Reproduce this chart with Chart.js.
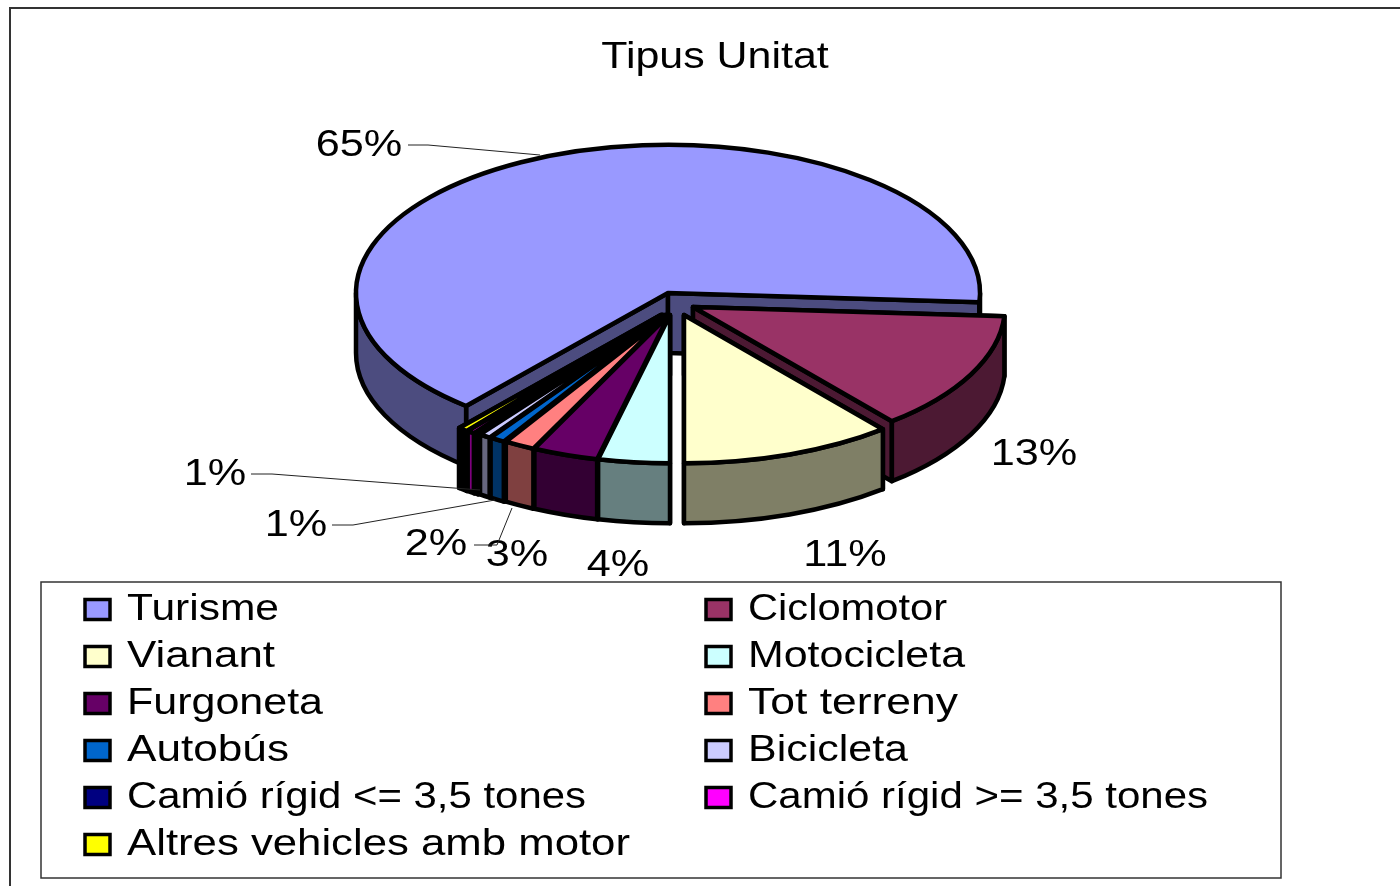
<!DOCTYPE html>
<html>
<head>
<meta charset="utf-8">
<title>Tipus Unitat</title>
<script src="https://cdn.jsdelivr.net/npm/chart.js@4"></script>
<style>
  html, body { margin: 0; padding: 0; background: #fff; }
  canvas { display: block; }
</style>
</head>
<body>
<canvas id="myChart" width="1400" height="886"></canvas>
<script>
// values
let categories = ["Turisme", "Ciclomotor", "Vianant", "Motocicleta", "Furgoneta", "Tot terreny",
  "Autobús", "Bicicleta", "Camió rígid <= 3,5 tones", "Camió rígid >= 3,5 tones", "Altres vehicles amb motor"];
let shares = [64.8, 13, 11, 3.7, 3.4, 1.6, 0.8, 0.6, 0.2, 0.4, 0.5];
let colors = ["#9999FF", "#993366", "#FFFFCC", "#CCFFFF", "#660066", "#FF8080",
  "#0066CC", "#CCCCFF", "#000080", "#FF00FF", "#FFFF00"];

// look of the fake 3d pie
const FONT = "Liberation Sans";
const SQUASH = 0.475;
const RADIUS = 312;
const DEPTH = 60;
const CENTER_Y = 293;
const OUTLINE = 4.5;
// how far each slice is pulled out, in screen pixels
let pulled = [[0, 0], [25, 14], [16, 22], [2, 22], [1, 22], [0, 22], [-2, 22], [-3, 22], [-5, 22], [-6, 22], [-7, 22]];

// percent labels: [slice, text x, text y, leader points...]
let percentLabels = [
  [0, 359, 156, [[408, 145], [428, 145], [540, 155]]],
  [1, 1034, 465, []],
  [2, 845, 566, []],
  [3, 618, 576, []],
  [4, 517, 566, []],
  [5, 436, 555, [[474, 545], [497, 545], [512, 508]]],
  [6, 296, 536, [[332, 525], [353, 525], [495, 500]]],
  [7, 215, 485, [[251, 474], [272, 474], [480, 490]]]
];

let legendRows = [609.5, 656.5, 703.5, 750.5, 797.5, 844.5];
let legendCols = [[85, 127], [706, 748]];
let legendWidths = [152, 199, 148, 217, 196, 210, 162, 160, 459, 460, 503];

function darker(hex) {
  let n = parseInt(hex.slice(1), 16);
  let r = (n >> 16) >> 1, g = ((n >> 8) & 255) >> 1, b = (n & 255) >> 1;
  return "rgb(" + r + "," + g + "," + b + ")";
}

let wallColors = colors.map(darker);
wallColors[10] = "#000"; // that wall is only outline in the original

// text pulled to the width it has in the original, x is the left edge
function wideText(ctx, text, x, y, size, width) {
  ctx.save();
  ctx.font = size + "px '" + FONT + "'";
  ctx.fillStyle = "#000";
  ctx.textBaseline = "alphabetic";
  ctx.textAlign = "left";
  ctx.translate(x, y);
  ctx.scale(width / ctx.measureText(text).width, 1);
  ctx.fillText(text, 0, 0);
  ctx.restore();
}

// where a slice ends up on the screen
function sliceGeo(arc, i) {
  return {
    x: arc.x,
    y: CENTER_Y + pulled[i][1],
    a: arc.startAngle,
    b: arc.endAngle,
    r: arc.outerRadius
  };
}

function rim(g, t, down) {
  return [g.x + g.r * Math.cos(t), g.y + g.r * SQUASH * Math.sin(t) + (down || 0)];
}

function drawCut(ctx, g, t, fill) {
  let p = rim(g, t);
  ctx.beginPath();
  ctx.moveTo(g.x, g.y);
  ctx.lineTo(p[0], p[1]);
  ctx.lineTo(p[0], p[1] + DEPTH);
  ctx.lineTo(g.x, g.y + DEPTH);
  ctx.closePath();
  ctx.fillStyle = fill;
  ctx.fill();
  ctx.stroke();
}

function drawRimWall(ctx, g, from, to, fill) {
  let p = rim(g, to, DEPTH);
  ctx.beginPath();
  ctx.ellipse(g.x, g.y, g.r, g.r * SQUASH, 0, from, to);
  ctx.lineTo(p[0], p[1]);
  ctx.ellipse(g.x, g.y + DEPTH, g.r, g.r * SQUASH, 0, to, from, true);
  ctx.closePath();
  ctx.fillStyle = fill;
  ctx.fill();
  ctx.stroke();
}

function drawWalls(ctx, g, fill) {
  drawCut(ctx, g, g.a, fill);
  drawCut(ctx, g, g.b, fill);
  // only the part of the rim facing us, angles 0..180 and again 360..540
  let a = g.a, b = g.b;
  while (a < 0) { a += 2 * Math.PI; b += 2 * Math.PI; }
  [[0, Math.PI], [2 * Math.PI, 3 * Math.PI]].forEach((front) => {
    let from = Math.max(a, front[0]), to = Math.min(b, front[1]);
    if (to > from) drawRimWall(ctx, g, from, to, fill);
  });
}

let pie3d = {
  id: "pie3d",
  // move the slices apart, y is undone again by the squash
  afterDatasetsUpdate(chart) {
    chart.getDatasetMeta(0).data.forEach((arc, i) => {
      arc.x += pulled[i][0];
      arc.y += pulled[i][1] / SQUASH;
    });
  },
  beforeDraw(chart) {
    let ctx = chart.ctx;
    ctx.save();
    ctx.fillStyle = "#fff";
    ctx.fillRect(0, 0, 1400, 886);
    // frame of the chart, runs off the page to the right and bottom
    ctx.strokeStyle = "#333";
    ctx.lineWidth = 2;
    ctx.beginPath();
    ctx.moveTo(10, 886);
    ctx.lineTo(10, 8);
    ctx.lineTo(1400, 8);
    ctx.stroke();
    ctx.restore();

    // title is the library's, only wider
    let title = chart.titleBlock;
    if (!title._wide) {
      let plain = title.draw;
      title.draw = function () {
        let mid = (title.left + title.right) / 2;
        ctx.save();
        ctx.translate(715, 0);
        ctx.scale(1.16, 1);
        ctx.translate(-mid, 0);
        plain.call(title);
        ctx.restore();
      };
      title._wide = true;
    }
  },
  beforeDatasetsDraw(chart) {
    let ctx = chart.ctx;
    let arcs = chart.getDatasetMeta(0).data;
    ctx.save();
    ctx.strokeStyle = "#000";
    ctx.lineWidth = OUTLINE;
    ctx.lineJoin = "round";
    // back to front: the three big slices, then the small ones from the far end
    let order = [0, 1, 2, 10, 9, 8, 7, 6, 5, 4, 3];
    order.forEach((i) => {
      drawWalls(ctx, sliceGeo(arcs[i], i), wallColors[i]);
    });
    ctx.restore();
    // the tops are the library's arcs, squashed onto the ellipse
    ctx.save();
    ctx.translate(0, CENTER_Y);
    ctx.scale(1, SQUASH);
    ctx.translate(0, -arcs[0].y);
  },
  afterDatasetsDraw(chart) {
    let ctx = chart.ctx;
    ctx.restore();
    let arcs = chart.getDatasetMeta(0).data;
    ctx.save();
    ctx.strokeStyle = "#000";
    ctx.lineWidth = OUTLINE;
    ctx.lineJoin = "round";
    arcs.forEach((arc, i) => {
      let g = sliceGeo(arc, i);
      let p = rim(g, g.a);
      ctx.beginPath();
      ctx.moveTo(g.x, g.y);
      ctx.lineTo(p[0], p[1]);
      ctx.ellipse(g.x, g.y, g.r, g.r * SQUASH, 0, g.a, g.b);
      ctx.closePath();
      ctx.stroke();
    });
    ctx.restore();
  },
  afterDraw(chart) {
    let ctx = chart.ctx;
    let total = shares.reduce((s, v) => s + v, 0);

    // percent labels and their thin leader lines
    percentLabels.forEach((item) => {
      let pct = Math.round(shares[item[0]] / total * 100) + "%";
      ctx.font = "36px '" + FONT + "'";
      let w = ctx.measureText(pct).width * 1.2;
      wideText(ctx, pct, item[1] - w / 2, item[2], 36, w);
      let line = item[3];
      if (line.length) {
        ctx.save();
        ctx.strokeStyle = "#222";
        ctx.lineWidth = 1;
        ctx.beginPath();
        line.forEach((p, n) => {
          if (n === 0) ctx.moveTo(p[0], p[1]); else ctx.lineTo(p[0], p[1]);
        });
        ctx.stroke();
        ctx.restore();
      }
    });

    // legend box, two columns filled row by row
    ctx.save();
    ctx.strokeStyle = "#333";
    ctx.lineWidth = 1.5;
    ctx.strokeRect(41, 582, 1240, 296);
    categories.forEach((name, i) => {
      let col = legendCols[i % 2];
      let y = legendRows[Math.floor(i / 2)];
      ctx.fillStyle = colors[i];
      ctx.fillRect(col[0], y - 10, 25, 20);
      ctx.strokeStyle = "#000";
      ctx.lineWidth = 3.5;
      ctx.strokeRect(col[0], y - 10, 25, 20);
      wideText(ctx, name, col[1], y + 10.5, 36, legendWidths[i]);
    });
    ctx.restore();
  }
};

let myChart = new Chart(document.getElementById("myChart").getContext("2d"), {
  type: "pie",
  data: {
    labels: categories,
    datasets: [{
      data: shares,
      backgroundColor: colors,
      borderWidth: 0
    }]
  },
  options: {
    responsive: false,
    animation: false,
    radius: RADIUS,
    rotation: 220.32,
    layout: { padding: { right: 64 } },
    plugins: {
      legend: { display: false },
      tooltip: { enabled: false },
      title: {
        display: true,
        text: "Tipus Unitat",
        color: "#000",
        padding: { top: 36, bottom: 10 },
        font: { family: FONT, size: 37, weight: "normal" }
      }
    }
  },
  plugins: [pie3d]
});
</script>
</body>
</html>
